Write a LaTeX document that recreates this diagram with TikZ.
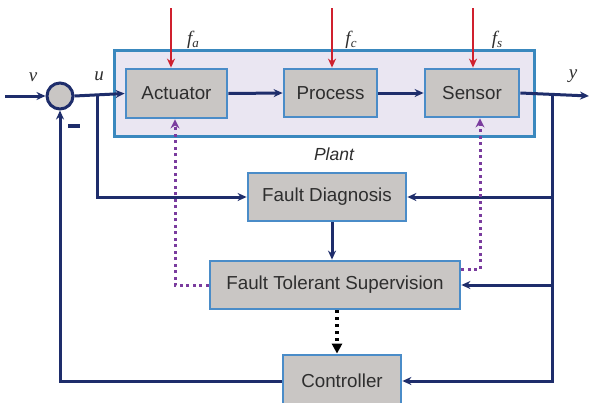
\documentclass[tikz,border=0pt]{standalone}
\usepackage{fontspec}
\setmainfont{Liberation Sans}
\setsansfont{Liberation Sans}
\newfontfamily\labserif{Liberation Serif}
\usetikzlibrary{arrows.meta,calc}
\definecolor{navy}{HTML}{1E2D6B}
\definecolor{boxblue}{HTML}{4A8CC8}
\definecolor{plantblue}{HTML}{3A88BE}
\definecolor{boxgray}{HTML}{C9C6C4}
\definecolor{plantfill}{HTML}{EAE6F2}
\definecolor{fred}{HTML}{D0202E}
\definecolor{purp}{HTML}{7A3C9E}
\definecolor{txt}{HTML}{2E2E2E}
\newcommand{\flab}[2]{{\labserif\itshape #1\raisebox{-3pt}{\fontsize{13}{13}\selectfont #2}}}
\tikzset{
  blockbox/.style={draw=boxblue, line width=2.8pt, fill=boxgray, text=txt,
    font=\fontsize{18.8}{20}\selectfont, inner sep=0pt},
  sig/.style={draw=navy, line width=3pt, -{Stealth[length=9pt,width=8pt]}},
  sigline/.style={draw=navy, line width=3pt},
  fault/.style={draw=fred, line width=2.6pt, -{Stealth[length=9pt,width=8pt]}},
  recon/.style={draw=purp, line width=3pt, dash pattern=on 3pt off 3.5pt, -{Stealth[length=9pt,width=9pt]}},
  cmd/.style={draw=black, line width=3.2pt, dash pattern=on 3pt off 4pt, -{Triangle[length=10pt,width=10pt]}},
  lbl/.style={font=\fontsize{19}{20}\selectfont\labserif\itshape, text=txt}
}
\begin{document}
\begin{tikzpicture}[x=1pt,y=-1pt]
\useasboundingbox[fill=white] (0,0) rectangle (592,402);
% plant
\node[draw=plantblue, line width=3pt, fill=plantfill, minimum width=420pt, minimum height=86pt, inner sep=0pt] (plant) at (324,93) {};
\node[font=\fontsize{17.5}{20}\selectfont\itshape, text=txt] (plantlbl) at (334,154) {Plant};
% blocks
\node[blockbox, minimum width=101pt, minimum height=49pt] (act) at (176.5,93.5) {Actuator};
\node[blockbox, minimum width=93pt, minimum height=48pt] (proc) at (330.5,93) {Process};
\node[blockbox, minimum width=94pt, minimum height=48pt] (sens) at (472,93) {Sensor};
\node[blockbox, minimum width=158pt, minimum height=48pt] (fd) at (327,197) {Fault Diagnosis};
\node[blockbox, minimum width=250pt, minimum height=48pt] (fts) at (335,285) {Fault Tolerant Supervision};
\node[blockbox, minimum width=118pt, minimum height=52pt] (ctrl) at (342,381) {Controller};
% summing junction
\node[circle, draw=navy, line width=3pt, fill=boxgray, minimum size=26pt, inner sep=0pt] (sum) at (60,96) {};
% coordinates
\coordinate (in) at (5,96);
\coordinate (ub) at (97,96);
\coordinate (out) at (589,96);
\coordinate (yb) at (552,96);
\coordinate (fa0) at (171,8);
\coordinate (fc0) at (332,8);
\coordinate (fs0) at (473,8);
% labels
\node[lbl] (vl) at (33,77) {v};
\node[lbl] (ul) at (99,76) {u};
\node[lbl] (yl) at (573,76) {y};
\node[lbl, font=\fontsize{19}{20}\selectfont] (fal) at (193,40) {\flab{f}{a}};
\node[lbl, font=\fontsize{19}{20}\selectfont] (fcl) at (351,40) {\flab{f}{c}};
\node[lbl, font=\fontsize{19}{20}\selectfont] (fsl) at (497,40) {\flab{f}{s}};
\node[draw=navy, fill=navy, minimum width=11pt, minimum height=3pt, inner sep=0pt] (minus) at (74,126) {};
% forward path
\draw[sig] (in) -- (sum.west);
\draw[sig] (sum.east) -- (act.west);
\draw[sig] (act.east) -- (proc.west);
\draw[sig] (proc.east) -- (sens.west);
\draw[sig] (sens.east) -- (out);
% fault inputs
\draw[fault] (fa0) -- (fa0 |- act.north);
\draw[fault] (fc0) -- (fc0 |- proc.north);
\draw[fault] (fs0) -- (fs0 |- sens.north);
% measurement branches
\draw[sig] (ub) |- (fd.west);
\draw[sigline] (yb) -- (yb |- ctrl.east);
\draw[sig] (yb) |- (fd.east);
\draw[sig] (yb) |- (fts.east);
\draw[sig] (yb) |- (ctrl.east);
\draw[sig] ([xshift=5pt]fd.south) -- ([xshift=5pt]fd.south |- fts.north);
% feedback
\draw[sig] (ctrl.west) -| (sum.south);
% supervision
\draw[cmd] ([xshift=2pt]fts.south) -- ([xshift=2pt]fts.south |- ctrl.north);
\draw[recon] (fts.west) -| ([xshift=-1.5pt]act.south);
\draw[recon] ([yshift=-10pt]fts.north east) -| ([xshift=8pt]sens.south);
\end{tikzpicture}
\end{document}
